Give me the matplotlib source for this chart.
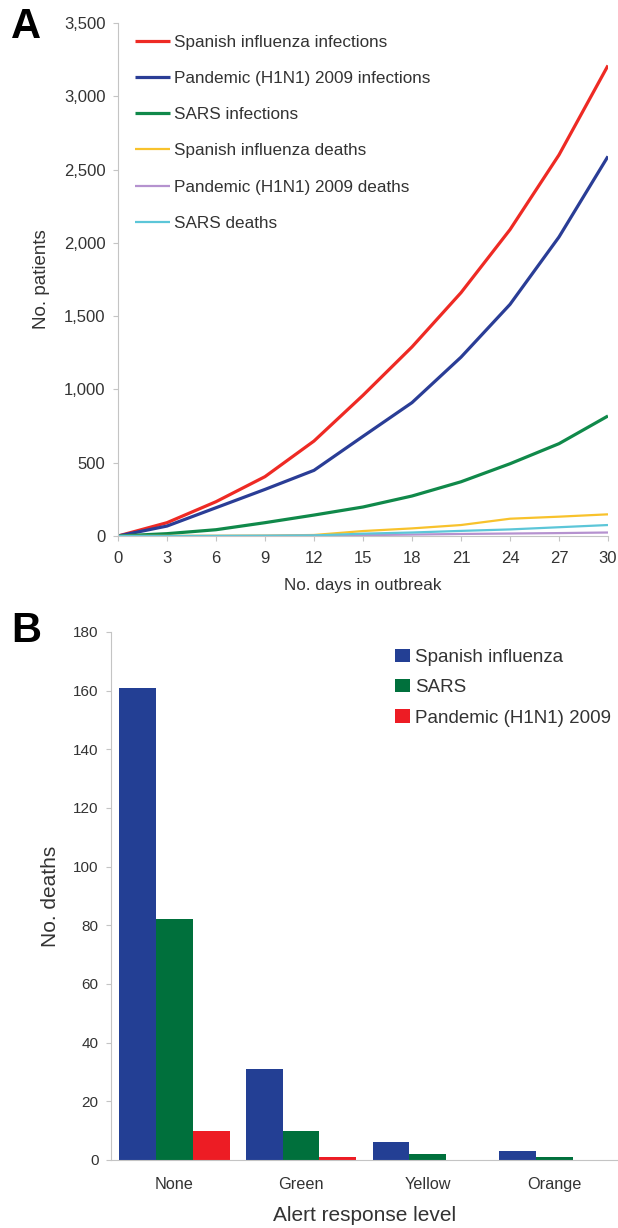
import matplotlib
matplotlib.use("Agg")
import matplotlib.pyplot as plt
import numpy as np

plt.rcParams["font.family"] = ["Liberation Sans", "DejaVu Sans"]

# panel A: cumulative counts by outbreak day
days = [0, 3, 6, 9, 12, 15, 18, 21, 24, 27, 30]
spanish_inf = [0, 91, 234, 405, 648, 960, 1290, 1660, 2090, 2600, 3210]
h1n1_inf = [0, 68, 193, 318, 448, 680, 910, 1220, 1580, 2040, 2590]
sars_inf = [0, 16, 43, 91, 143, 198, 273, 370, 493, 630, 819]
spanish_dead = [0, 1, 2, 3, 7, 34, 52, 75, 118, 132, 148]
h1n1_dead = [0, 0, 0, 1, 3, 6, 10, 14, 17, 20, 24]
sars_dead = [0, 0, 1, 2, 4, 16, 24, 35, 45, 60, 75]

# panel B: deaths by alert level
levels = ["None", "Green", "Yellow", "Orange"]
deaths_spanish = [161, 31, 6, 3]
deaths_sars = [82, 10, 2, 1]
deaths_h1n1 = [10, 1, 0, 0]

tick_col = "#333333"
spine_col = "#c4c4c4"

fig = plt.figure(figsize=(6.18, 12.28), dpi=100)

# ---- panel A ----
ax = fig.add_axes([0.1909, 0.5635, 0.7929, 0.4178])
series = [
    (spanish_inf, "#ee2a24", 2.3, "Spanish influenza infections"),
    (h1n1_inf, "#2a3d96", 2.3, "Pandemic (H1N1) 2009 infections"),
    (sars_inf, "#10894a", 2.3, "SARS infections"),
    (spanish_dead, "#f8c22c", 1.6, "Spanish influenza deaths"),
    (h1n1_dead, "#b592cf", 1.6, "Pandemic (H1N1) 2009 deaths"),
    (sars_dead, "#5cc6d8", 1.6, "SARS deaths"),
]
for vals, col, lw, lab in series:
    ax.plot(days, vals, color=col, lw=lw, label=lab, solid_capstyle="butt")

ax.set_xlim(0, 30)
ax.set_ylim(0, 3500)
ax.set_xticks(days)
ax.set_yticks(np.arange(0, 3501, 500))
ax.yaxis.set_major_formatter(matplotlib.ticker.FuncFormatter(lambda v, p: f"{int(v):,}"))
for s in ["top", "right"]:
    ax.spines[s].set_visible(False)
for s in ["left", "bottom"]:
    ax.spines[s].set_color(spine_col)
ax.tick_params(colors=spine_col, labelcolor=tick_col, labelsize=12, length=3.5, direction="out")
ax.tick_params(axis="y", pad=5.5)
ax.tick_params(axis="x", pad=7)
ax.set_xlabel("No. days in outbreak", fontsize=12.3, color=tick_col, labelpad=9)
ax.set_ylabel("No. patients", fontsize=13.5, color=tick_col, labelpad=10)
leg = ax.legend(loc="upper left", bbox_to_anchor=(0.021, 0.99), frameon=False,
                fontsize=12.3, handlelength=2.05, handletextpad=0.25, labelspacing=1.24,
                borderaxespad=0)
for t in leg.get_texts():
    t.set_color(tick_col)

fig.text(0.018, 1 - 38 / 1228, "A", fontsize=30, fontweight="bold", va="baseline", ha="left")

# ---- panel B ----
bx = fig.add_axes([0.1796, 0.0554, 0.8204, 0.43])
x = np.arange(len(levels))
w = 0.29
bx.bar(x - w, deaths_spanish, w, color="#233f94", label="Spanish influenza")
bx.bar(x, deaths_sars, w, color="#00703c", label="SARS")
bx.bar(x + w, deaths_h1n1, w, color="#ed1c24", label="Pandemic (H1N1) 2009")
bx.set_xlim(-0.5, 3.5)
bx.set_ylim(0, 180)
bx.set_yticks(np.arange(0, 181, 20))
bx.set_xticks(x)
bx.set_xticklabels(levels)
for s in ["top", "right"]:
    bx.spines[s].set_visible(False)
for s in ["left", "bottom"]:
    bx.spines[s].set_color(spine_col)
bx.tick_params(axis="y", colors=spine_col, labelcolor=tick_col, labelsize=11, length=3.5, pad=5.5)
bx.tick_params(axis="x", length=0, labelcolor=tick_col, labelsize=11.7, pad=12)
bx.set_xlabel("Alert response level", fontsize=15, color=tick_col, labelpad=10)
bx.set_ylabel("No. deaths", fontsize=15, color=tick_col, labelpad=9)
leg2 = bx.legend(loc="upper left", bbox_to_anchor=(0.545, 0.982), frameon=False,
                 fontsize=13.5, handlelength=0.8, handleheight=0.7, handletextpad=0.27,
                 labelspacing=0.7, borderaxespad=0)
for t in leg2.get_texts():
    t.set_color(tick_col)

fig.text(0.018, 1 - 642 / 1228, "B", fontsize=30, fontweight="bold", va="baseline", ha="left")

fig.savefig("out.png", dpi=100)
